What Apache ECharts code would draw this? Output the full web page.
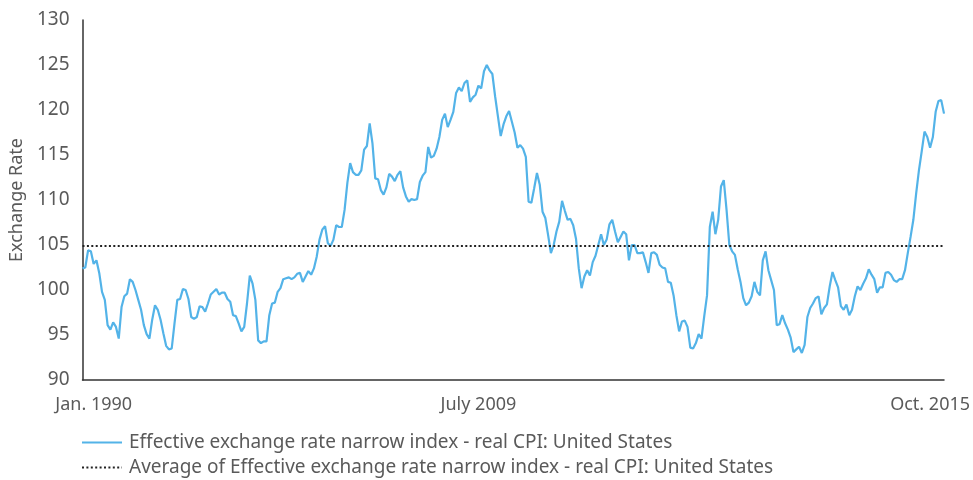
<!DOCTYPE html>
<html>
<head>
<meta charset="utf-8">
<style>
html,body{margin:0;padding:0;background:#fff;}
#chart{width:973px;height:480px;}
</style>
<script src="https://cdn.jsdelivr.net/npm/echarts@6/dist/echarts.min.js"></script>
</head>
<body>
<div id="chart"></div>
<script>
// Monthly values, Jan 1990 .. Oct 2015 (310 months)
const eerValues = [
102.4,102.5,104.4,104.3,102.9,103.3,101.9,99.8,98.9,96.1,
95.6,96.4,95.9,94.6,98.1,99.3,99.6,101.2,100.9,100.0,
98.9,97.8,96.1,95.1,94.6,96.7,98.3,97.8,96.7,95.2,
93.8,93.4,93.5,96.3,98.9,99.0,100.1,100.0,99.0,97.0,
96.8,97.0,98.2,98.1,97.6,98.5,99.5,99.8,100.1,99.5,
99.7,99.7,99.0,98.7,97.2,97.1,96.3,95.4,95.9,98.5,
101.6,100.7,98.9,94.4,94.1,94.3,94.3,97.2,98.5,98.6,
99.8,100.2,101.2,101.3,101.4,101.2,101.4,101.8,101.9,100.9,
101.5,102.1,101.7,102.4,103.7,105.6,106.7,107.1,105.2,104.9,
105.6,107.2,107.0,107.0,108.9,111.9,114.1,113.1,112.8,112.8,
113.3,115.6,116.0,118.5,116.3,112.4,112.3,111.1,110.6,111.4,
112.9,112.6,112.1,112.8,113.2,111.4,110.4,109.8,110.1,110.0,
110.1,112.0,112.7,113.1,115.9,114.7,114.9,115.7,117.0,118.9,
119.6,118.1,118.9,119.8,121.9,122.5,122.1,123.0,123.3,120.9,
121.4,121.7,122.7,122.4,124.3,125.0,124.4,124.0,121.5,119.3,
117.1,118.4,119.3,119.9,118.7,117.5,115.8,116.1,115.7,114.8,
109.8,109.7,111.3,113.0,111.7,108.7,108.0,106.1,104.1,105.0,
106.5,107.6,109.9,108.8,107.8,107.9,107.2,105.7,102.4,100.2,
101.5,102.2,101.6,103.1,103.8,105.0,106.2,105.0,105.6,107.3,
107.8,106.5,105.3,105.9,106.5,106.2,103.3,105.0,105.0,104.1,
104.1,104.2,103.1,101.9,104.1,104.2,103.9,102.8,102.5,102.4,
100.9,100.8,99.4,97.2,95.4,96.5,96.6,95.9,93.6,93.5,
94.1,95.1,94.6,97.1,99.4,107.0,108.7,106.2,107.8,111.5,
112.2,108.9,105.0,104.3,103.9,102.3,100.9,99.1,98.3,98.6,
99.3,100.9,99.8,99.4,103.3,104.3,102.2,101.1,100.0,96.1,
96.2,97.2,96.3,95.6,94.7,93.1,93.4,93.7,93.0,93.9,
97.0,98.0,98.5,99.1,99.3,97.3,98.0,98.4,100.4,102.0,
101.1,100.3,98.2,97.8,98.4,97.2,97.8,99.3,100.4,100.0,
100.7,101.3,102.3,101.7,101.2,99.7,100.3,100.3,101.9,102.0,
101.7,101.1,100.9,101.2,101.2,102.2,104.1,105.9,107.8,110.7,
113.3,115.4,117.6,117.0,115.8,117.0,119.8,121.0,121.1,119.6
];
const averageValue = 104.9;
const tickIndex = [4, 142, 304];
const tickText = ['Jan. 1990', 'July 2009', 'Oct. 2015'];
const yTicks = [90, 95, 100, 105, 110, 115, 120, 125, 130];

const categories = [];
for (let i = 0; i < eerValues.length; i++) {
  const y = 1990 + Math.floor(i / 12), m = (i % 12) + 1;
  categories.push(y + '-' + (m < 10 ? '0' + m : m));
}
const avgSeries = eerValues.map(() => averageValue);

const nameA = 'Effective exchange rate narrow index - real CPI: United States';
const nameB = 'Average of Effective exchange rate narrow index - real CPI: United States';
const font = 'Noto Sans';
const textColor = '#5a5a5a';
const legendBase = {
  orient: 'horizontal', left: 81, padding: 0, itemWidth: 40, itemHeight: 14,
  itemStyle: {color: 'rgba(0,0,0,0)', borderWidth: 0},
  textStyle: {fontFamily: font, fontSize: 19, color: textColor, padding: [0, 0, 0, 2]}
};
const chart = echarts.init(document.getElementById('chart'), null, {renderer: 'canvas'});
chart.setOption({
  animation: false,
  backgroundColor: '#fff',
  grid: {left: 81, right: 28, top: 20, bottom: 100, containLabel: false},
  legend: [
    Object.assign({}, legendBase, {top: 433, data: [{name: nameA}]}),
    Object.assign({}, legendBase, {top: 458, data: [{name: nameB}]})
  ],
  xAxis: {
    type: 'category', data: categories, boundaryGap: false,
    axisLine: {lineStyle: {color: '#333', width: 1.5}},
    axisTick: {show: false},
    axisLabel: {
      interval: (idx) => tickIndex.indexOf(idx) >= 0,
      formatter: (val, idx) => { const k = tickIndex.indexOf(idx); return k >= 0 ? tickText[k] : ''; },
      fontFamily: font, fontSize: 18, color: textColor, margin: 16
    },
    splitLine: {show: false}
  },
  yAxis: {
    type: 'value', min: yTicks[0], max: yTicks[yTicks.length - 1], interval: 5,
    name: 'Exchange Rate', nameLocation: 'middle', nameGap: 55,
    nameTextStyle: {fontFamily: font, fontSize: 18, color: textColor},
    axisLine: {show: true, lineStyle: {color: '#333', width: 1.5}},
    axisTick: {show: false},
    axisLabel: {fontFamily: font, fontSize: 19, color: textColor, margin: 13},
    splitLine: {show: false}
  },
  series: [
    {
      name: nameA, type: 'line', data: eerValues, symbol: 'none', showSymbol: false,
      lineStyle: {color: '#53b3e8', width: 2.2}, itemStyle: {color: '#53b3e8'}, z: 2
    },
    {
      name: nameB, type: 'line', data: avgSeries, symbol: 'none', showSymbol: false,
      lineStyle: {color: '#222', width: 2, type: [2, 2.4]}, itemStyle: {color: '#222'}, z: 3
    }
  ]
});
</script>
</body>
</html>
